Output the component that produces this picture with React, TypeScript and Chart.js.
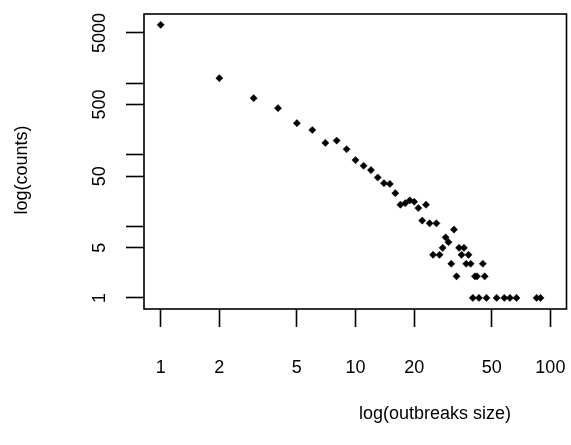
import React, { useEffect, useRef } from "react";
import { Chart, registerables } from "chart.js";

Chart.register(...registerables);

// outbreak size (x) and number of outbreaks of that size (y)
const outbreakSizes = [
  1, 2, 3, 4, 5, 6, 7, 8, 9, 10, 11, 12, 13, 14, 15, 16, 17, 18, 19, 20,
  21, 22, 23, 24, 25, 26, 27, 28, 29, 30, 31, 32, 33, 34, 35, 36, 37, 38, 39,
  40, 41, 42, 43, 45, 46, 47, 53, 58, 62, 67, 85, 89,
];
const outbreakCounts = [
  6500, 1170, 615, 446, 275, 221, 146, 157, 119, 84, 70, 61, 48, 40, 39, 29, 20, 21, 23, 22,
  18, 12, 20, 11, 4, 11, 4, 5, 7, 6, 3, 9, 2, 5, 4, 5, 3, 4, 3,
  1, 2, 2, 1, 3, 2, 1, 1, 1, 1, 1, 1, 1,
];

const xTickValues = [1, 2, 5, 10, 20, 50, 100];
const yTickValues = [1, 5, 10, 50, 100, 500, 1000, 5000];
const yTickLabels = ["1", "5", "", "50", "", "500", "", "5000"];
const xTitle = "log(outbreaks size)";
const yTitle = "log(counts)";

const FONT = '"Liberation Sans", Arial, Helvetica, sans-serif';

export default function App() {
  const canvasRef = useRef<HTMLCanvasElement | null>(null);

  useEffect(() => {
    const canvas = canvasRef.current;
    if (!canvas) return;

    const framePlugin = {
      id: "rframe",
      afterDraw(chart: any) {
        const { ctx, chartArea: a } = chart;
        ctx.save();
        ctx.strokeStyle = "#000";
        ctx.lineWidth = 1.6;
        ctx.strokeRect(a.left, a.top, a.right - a.left, a.bottom - a.top);

        // rotated y tick labels (R style, las = 0)
        const ys = chart.scales.y;
        ctx.fillStyle = "#000";
        ctx.font = `18px ${FONT}`;
        ctx.textAlign = "center";
        ctx.textBaseline = "alphabetic";
        yTickValues.forEach((v, i) => {
          const lab = yTickLabels[i];
          if (!lab) return;
          const py = ys.getPixelForValue(v);
          ctx.save();
          ctx.translate(105, py);
          ctx.rotate(-Math.PI / 2);
          ctx.fillText(lab, 0, 0);
          ctx.restore();
        });

        // axis titles
        ctx.textAlign = "center";
        ctx.textBaseline = "middle";
        ctx.fillText(xTitle, 435, 414);
        ctx.save();
        ctx.translate(22, 170);
        ctx.rotate(-Math.PI / 2);
        ctx.fillText(yTitle, 0, 0);
        ctx.restore();
        ctx.restore();
      },
    };

    const chart = new Chart(canvas, {
      type: "scatter",
      data: {
        datasets: [
          {
            data: outbreakSizes.map((s, i) => ({ x: s, y: outbreakCounts[i] })),
            pointStyle: "rectRot",
            pointRadius: 3.6,
            pointBorderWidth: 0.5,
            backgroundColor: "#000",
            borderColor: "#000",
          },
        ],
      },
      options: {
        responsive: false,
        animation: false,
        events: [],
        layout: { padding: { top: 14, right: 4, left: 0, bottom: 0 } },
        plugins: { legend: { display: false }, tooltip: { enabled: false } },
        scales: {
          x: {
            type: "logarithmic",
            min: 0.821,
            max: 121,
            afterBuildTicks: (scale: any) => {
              scale.ticks = xTickValues.map((v) => ({ value: v }));
            },
            afterFit: (scale: any) => {
              scale.height = 136;
              scale.paddingLeft = 0;
              scale.paddingRight = 0;
            },
            grid: {
              drawOnChartArea: false,
              drawTicks: true,
              tickLength: 18,
              tickWidth: 1.6,
              tickColor: "#000",
              color: "#000",
            },
            border: { display: false },
            ticks: {
              autoSkip: false,
              maxRotation: 0,
              minRotation: 0,
              padding: 30,
              color: "#000",
              font: { family: FONT, size: 18 },
              callback: (v: any) => String(v),
            },
          },
          y: {
            type: "logarithmic",
            min: 0.706,
            max: 9200,
            afterBuildTicks: (scale: any) => {
              scale.ticks = yTickValues.map((v) => ({ value: v }));
            },
            afterFit: (scale: any) => {
              scale.width = 144;
              scale.paddingTop = 0;
              scale.paddingBottom = 0;
            },
            grid: {
              drawOnChartArea: false,
              drawTicks: true,
              tickLength: 18,
              tickWidth: 1.6,
              tickColor: "#000",
              color: "#000",
            },
            border: { display: false },
            ticks: { display: false },
          },
        },
      },
      plugins: [framePlugin],
    });

    return () => chart.destroy();
  }, []);

  return (
    <div style={{ position: "fixed", left: 0, top: 0, width: 571, height: 445, background: "#fff" }}>
      <canvas ref={canvasRef} width={571} height={445} />
    </div>
  );
}
